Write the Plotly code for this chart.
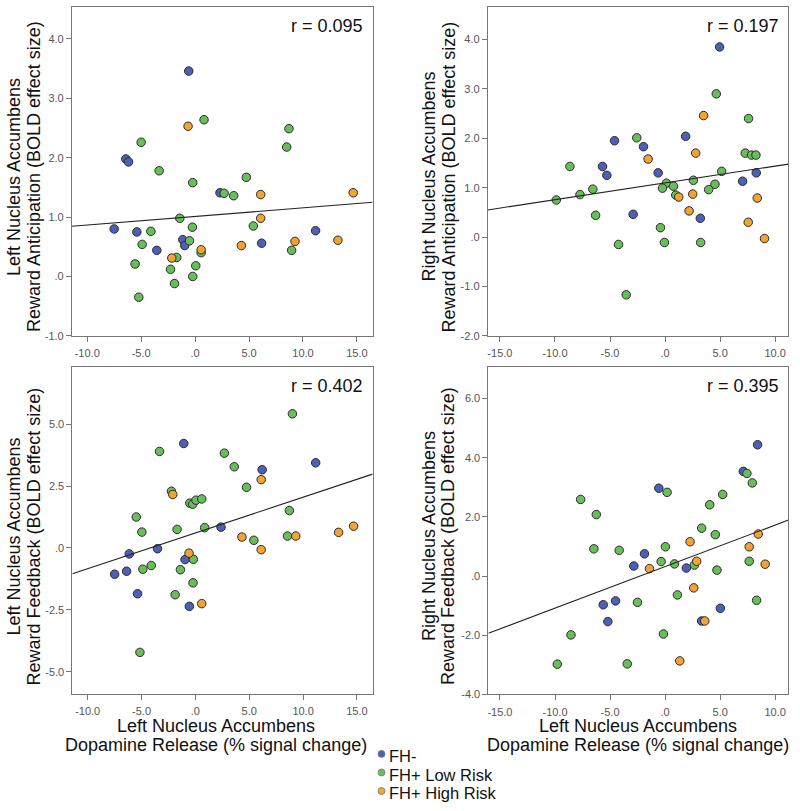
import numpy as np
import plotly.graph_objects as go

W, H = 800, 811

group_names = ["FH-", "FH+ Low Risk", "FH+ High Risk"]
group_colors = ["#4e60b5", "#69be5b", "#f1a333"]

# ---------- Panel 1: Left NAcc reward anticipation ----------
p1_neg_x = [-0.59, -6.42, -6.17, 2.31, -7.50, -5.40, -3.55, -1.14, -0.96, 6.17, 11.17]
p1_neg_y = [3.46, 1.98, 1.93, 1.41, 0.80, 0.75, 0.44, 0.62, 0.52, 0.56, 0.77]
p1_low_x = [0.83, -5.00, 8.70, 8.49, -3.33, -0.22, 4.75, 2.69, 3.58, -1.42, -0.25, 5.40,
            -4.10, -4.91, -0.52, -1.70, 0.56, -5.56, -2.28, 0.06, -0.22, -1.91, -5.22, 8.95]
p1_low_y = [2.64, 2.26, 2.49, 2.18, 1.78, 1.58, 1.67, 1.40, 1.36, 0.98, 0.83, 0.85,
            0.76, 0.54, 0.60, 0.32, 0.40, 0.21, 0.12, 0.18, 0.00, -0.12, -0.35, 0.44]
p1_high_x = [-0.65, 6.08, 14.66, 6.08, 4.29, 0.56, -2.16, 9.26, 13.24]
p1_high_y = [2.53, 1.38, 1.41, 0.98, 0.52, 0.45, 0.31, 0.59, 0.61]

# ---------- Panel 2: Right NAcc reward anticipation ----------
p2_neg_x = [4.95, 1.87, -4.59, -1.96, -5.68, -5.29, -0.63, 8.28, 7.04, -2.90, 3.20]
p2_neg_y = [3.85, 2.04, 1.95, 1.83, 1.43, 1.25, 1.30, 1.30, 1.13, 0.46, 0.38]
p2_low_x = [4.65, 7.58, -2.57, 7.28, 7.85, 8.25, -8.64, 5.14, 0.12, 0.76, -0.24, 2.57,
            4.53, 3.96, -6.56, -7.73, -9.88, 0.97, -6.31, -0.42, -4.23, -0.06, 3.23, -3.53]
p2_low_y = [2.90, 2.40, 2.01, 1.70, 1.66, 1.66, 1.43, 1.33, 1.09, 1.03, 0.99, 1.15,
            1.07, 0.96, 0.97, 0.86, 0.75, 0.85, 0.44, 0.19, -0.15, -0.11, -0.11, -1.17]
p2_high_x = [3.50, -1.54, 2.78, 1.24, 2.51, 2.18, 8.37, 7.55, 9.03]
p2_high_y = [2.46, 1.58, 1.70, 0.81, 0.87, 0.53, 0.79, 0.30, -0.03]

# ---------- Panel 3: Left NAcc reward feedback ----------
p3_neg_x = [-1.08, 11.17, 6.20, 2.38, -3.52, -6.14, -6.39, -7.50, -0.96, -5.37, -0.56]
p3_neg_y = [4.22, 3.44, 3.16, 0.84, -0.03, -0.24, -0.94, -1.06, -0.47, -1.85, -2.36]
p3_low_x = [9.01, -3.33, 2.69, 3.61, 4.75, -2.22, -0.52, -0.25, 0.06, 0.59, -5.49, 8.73,
            -4.97, -1.70, 0.86, 5.43, 8.55, -0.19, -4.88, -4.10, -1.39, -0.22, -1.88, -5.15]
p3_low_y = [5.42, 3.90, 3.83, 3.28, 2.45, 2.29, 1.81, 1.77, 1.93, 1.98, 1.25, 1.51,
            0.64, 0.75, 0.82, 0.31, 0.48, -0.46, -0.86, -0.71, -0.88, -1.41, -1.89, -4.22]
p3_high_x = [6.11, -2.10, 4.32, 9.32, 13.30, 14.69, 6.11, -0.59, 0.59]
p3_high_y = [2.76, 2.16, 0.44, 0.48, 0.63, 0.88, -0.07, -0.21, -2.25]

# ---------- Panel 4: Right NAcc reward feedback ----------
p4_neg_x = [8.40, 7.10, -0.57, -1.87, -2.84, 1.93, -5.62, -4.50, -5.20, 3.32, 5.02]
p4_neg_y = [4.44, 3.54, 2.97, 0.75, 0.34, 0.27, -0.97, -0.84, -1.54, -1.52, -1.09]
p4_low_x = [7.43, 7.92, 0.18, 5.23, -7.67, 4.05, -6.25, 3.32, 4.56, 0.03, -6.47, -4.17,
            -0.36, 0.85, 2.66, 7.64, 4.71, -2.51, 1.12, 8.31, -0.15, -8.55, -9.79, -3.44]
p4_low_y = [3.47, 3.15, 2.83, 2.76, 2.59, 2.41, 2.08, 1.62, 1.40, 0.99, 0.92, 0.87,
            0.49, 0.41, 0.37, 0.50, 0.20, -0.89, -0.64, -0.82, -1.96, -1.99, -2.98, -2.97]
p4_high_x = [8.46, 7.64, 2.27, 2.87, -1.42, 9.09, 2.60, 3.60, 1.33]
p4_high_y = [1.42, 0.99, 1.16, 0.50, 0.25, 0.40, -0.40, -1.52, -2.87]

r_labels = ["r = 0.095", "r = 0.197", "r = 0.402", "r = 0.395"]

x_ticks_left = [-10, -5, 0, 5, 10, 15]
x_ticktext_left = ["-10.0", "-5.0", ".0", "5.0", "10.0", "15.0"]
x_ticks_right = [-15, -10, -5, 0, 5, 10]
x_ticktext_right = ["-15.0", "-10.0", "-5.0", ".0", "5.0", "10.0"]
y_ticks_1 = [-1, 0, 1, 2, 3, 4]
y_ticktext_1 = ["-1.0", ".0", "1.0", "2.0", "3.0", "4.0"]
y_ticks_2 = [-2, -1, 0, 1, 2, 3, 4]
y_ticktext_2 = ["-2.0", "-1.0", ".0", "1.0", "2.0", "3.0", "4.0"]
y_ticks_3 = [-5, -2.5, 0, 2.5, 5]
y_ticktext_3 = ["-5.0", "-2.5", ".0", "2.5", "5.0"]
y_ticks_4 = [-4, -2, 0, 2, 4, 6]
y_ticktext_4 = ["-4.0", "-2.0", ".0", "2.0", "4.0", "6.0"]

y_title_line1 = ["Left Nucleus Accumbens", "Right Nucleus Accumbens",
                 "Left Nucleus Accumbens", "Right Nucleus Accumbens"]
y_title_line2 = ["Reward Anticipation (BOLD effect size)", "Reward Anticipation (BOLD effect size)",
                 "Reward Feedback (BOLD effect size)", "Reward Feedback (BOLD effect size)"]
x_title_line1 = "Left Nucleus Accumbens"
x_title_line2 = "Dopamine Release (% signal change)"

panels = [
    dict(data=[(p1_neg_x, p1_neg_y), (p1_low_x, p1_low_y), (p1_high_x, p1_high_y)],
         box=(71, 372, 7, 338.3), xr=[-11.42, 16.45], yr=[-1.0, 4.54],
         xt=(x_ticks_left, x_ticktext_left), yt=(y_ticks_1, y_ticktext_1)),
    dict(data=[(p2_neg_x, p2_neg_y), (p2_low_x, p2_low_y), (p2_high_x, p2_high_y)],
         box=(487.4, 788.4, 7, 338.3), xr=[-16.1, 11.2], yr=[-2.0, 4.66],
         xt=(x_ticks_right, x_ticktext_right), yt=(y_ticks_2, y_ticktext_2)),
    dict(data=[(p3_neg_x, p3_neg_y), (p3_low_x, p3_low_y), (p3_high_x, p3_high_y)],
         box=(71.5, 372, 370, 699.4), xr=[-11.42, 16.45], yr=[-5.91, 7.30],
         xt=(x_ticks_left, x_ticktext_left), yt=(y_ticks_3, y_ticktext_3)),
    dict(data=[(p4_neg_x, p4_neg_y), (p4_low_x, p4_low_y), (p4_high_x, p4_high_y)],
         box=(488.0, 788.4, 370, 699.5), xr=[-16.05, 11.2], yr=[-4.0, 7.06],
         xt=(x_ticks_right, x_ticktext_right), yt=(y_ticks_4, y_ticktext_4)),
]

FONT = "Liberation Sans, Arial, Helvetica, sans-serif"
fig = go.Figure()
layout = dict(width=W, height=H, margin=dict(l=0, r=0, t=0, b=0),
              paper_bgcolor="white", plot_bgcolor="white", showlegend=False,
              font=dict(family=FONT, color="#111"))
annotations = []
shapes = []

for i, p in enumerate(panels, start=1):
    sfx = "" if i == 1 else str(i)
    xa, ya = "x" + sfx, "y" + sfx
    x0, x1, ytop, ybot = p["box"]
    for (gx, gy), col in zip(p["data"], group_colors):
        fig.add_trace(go.Scatter(x=gx, y=gy, mode="markers", xaxis=xa, yaxis=ya,
                                 marker=dict(size=8.5, color=col,
                                             line=dict(color="#2b2b2b", width=1)),
                                 hoverinfo="x+y"))
    allx = np.concatenate([np.asarray(d[0]) for d in p["data"]])
    ally = np.concatenate([np.asarray(d[1]) for d in p["data"]])
    slope, icpt = np.polyfit(allx, ally, 1)
    lx = np.array(p["xr"])
    fig.add_trace(go.Scatter(x=lx, y=icpt + slope * lx, mode="lines", xaxis=xa, yaxis=ya,
                             line=dict(color="#222", width=1.1), hoverinfo="skip"))
    common = dict(showgrid=False, zeroline=False, showline=True, linecolor="#777",
                  linewidth=1, mirror=True, ticks="outside", ticklen=5, tickcolor="#777",
                  tickfont=dict(family=FONT, size=11, color="#555"))
    layout["xaxis" + sfx] = dict(domain=[x0 / W, x1 / W], range=p["xr"], anchor=ya,
                                 tickvals=p["xt"][0], ticktext=p["xt"][1],
                                 ticklabelstandoff=2, **common)
    layout["yaxis" + sfx] = dict(domain=[1 - ybot / H, 1 - ytop / H], range=p["yr"], anchor=xa,
                                 tickvals=p["yt"][0], ticktext=p["yt"][1], **common)
    # r label
    annotations.append(dict(xref="paper", yref="paper", x=(x1 - 7.5) / W, y=1 - (ytop + 19) / H,
                            text=r_labels[i - 1], showarrow=False, xanchor="right",
                            yanchor="middle", font=dict(size=18, color="#111")))
    # y titles
    tx = 13.3 if i in (1, 3) else 428.3
    ty = (ytop + ybot) / 2 + 5.5
    annotations.append(dict(xref="paper", yref="paper", x=tx / W, y=1 - ty / H,
                            text=y_title_line1[i - 1], showarrow=False, textangle=-90,
                            xanchor="center", yanchor="middle", font=dict(size=18, color="#111")))
    annotations.append(dict(xref="paper", yref="paper", x=(tx + 20) / W, y=1 - ty / H,
                            text=y_title_line2[i - 1], showarrow=False, textangle=-90,
                            xanchor="center", yanchor="middle", font=dict(size=18, color="#111")))

# x titles under bottom panels
for cx in (215, 638):
    annotations.append(dict(xref="paper", yref="paper", x=cx / W, y=1 - 731 / H,
                            text=x_title_line1, showarrow=False, xanchor="center",
                            yanchor="middle", font=dict(size=18, color="#111")))
    annotations.append(dict(xref="paper", yref="paper", x=cx / W, y=1 - 751 / H,
                            text=x_title_line2, showarrow=False, xanchor="center",
                            yanchor="middle", font=dict(size=18, color="#111")))

# manual legend
legend_y = [760.5, 779.2, 797.9]
for name, col, ly in zip(group_names, group_colors, legend_y):
    shapes.append(dict(type="circle", xref="paper", yref="paper",
                       xsizemode="pixel", ysizemode="pixel",
                       xanchor=381 / W, yanchor=1 - (ly - 1) / H,
                       x0=-3.5, x1=3.5, y0=-3.5, y1=3.5,
                       fillcolor=col, line=dict(color="#777", width=0.8)))
    annotations.append(dict(xref="paper", yref="paper", x=386.5 / W, y=1 - (ly + 1.5) / H,
                            text=name, showarrow=False, xanchor="left", yanchor="middle",
                            font=dict(size=16.5, color="#111")))

layout["annotations"] = annotations
layout["shapes"] = shapes
fig.update_layout(**layout)
fig.write_html("out.html", config={"displayModeBar": False},
               post_script="document.body.style.margin='0px';document.body.style.overflow='hidden';")
